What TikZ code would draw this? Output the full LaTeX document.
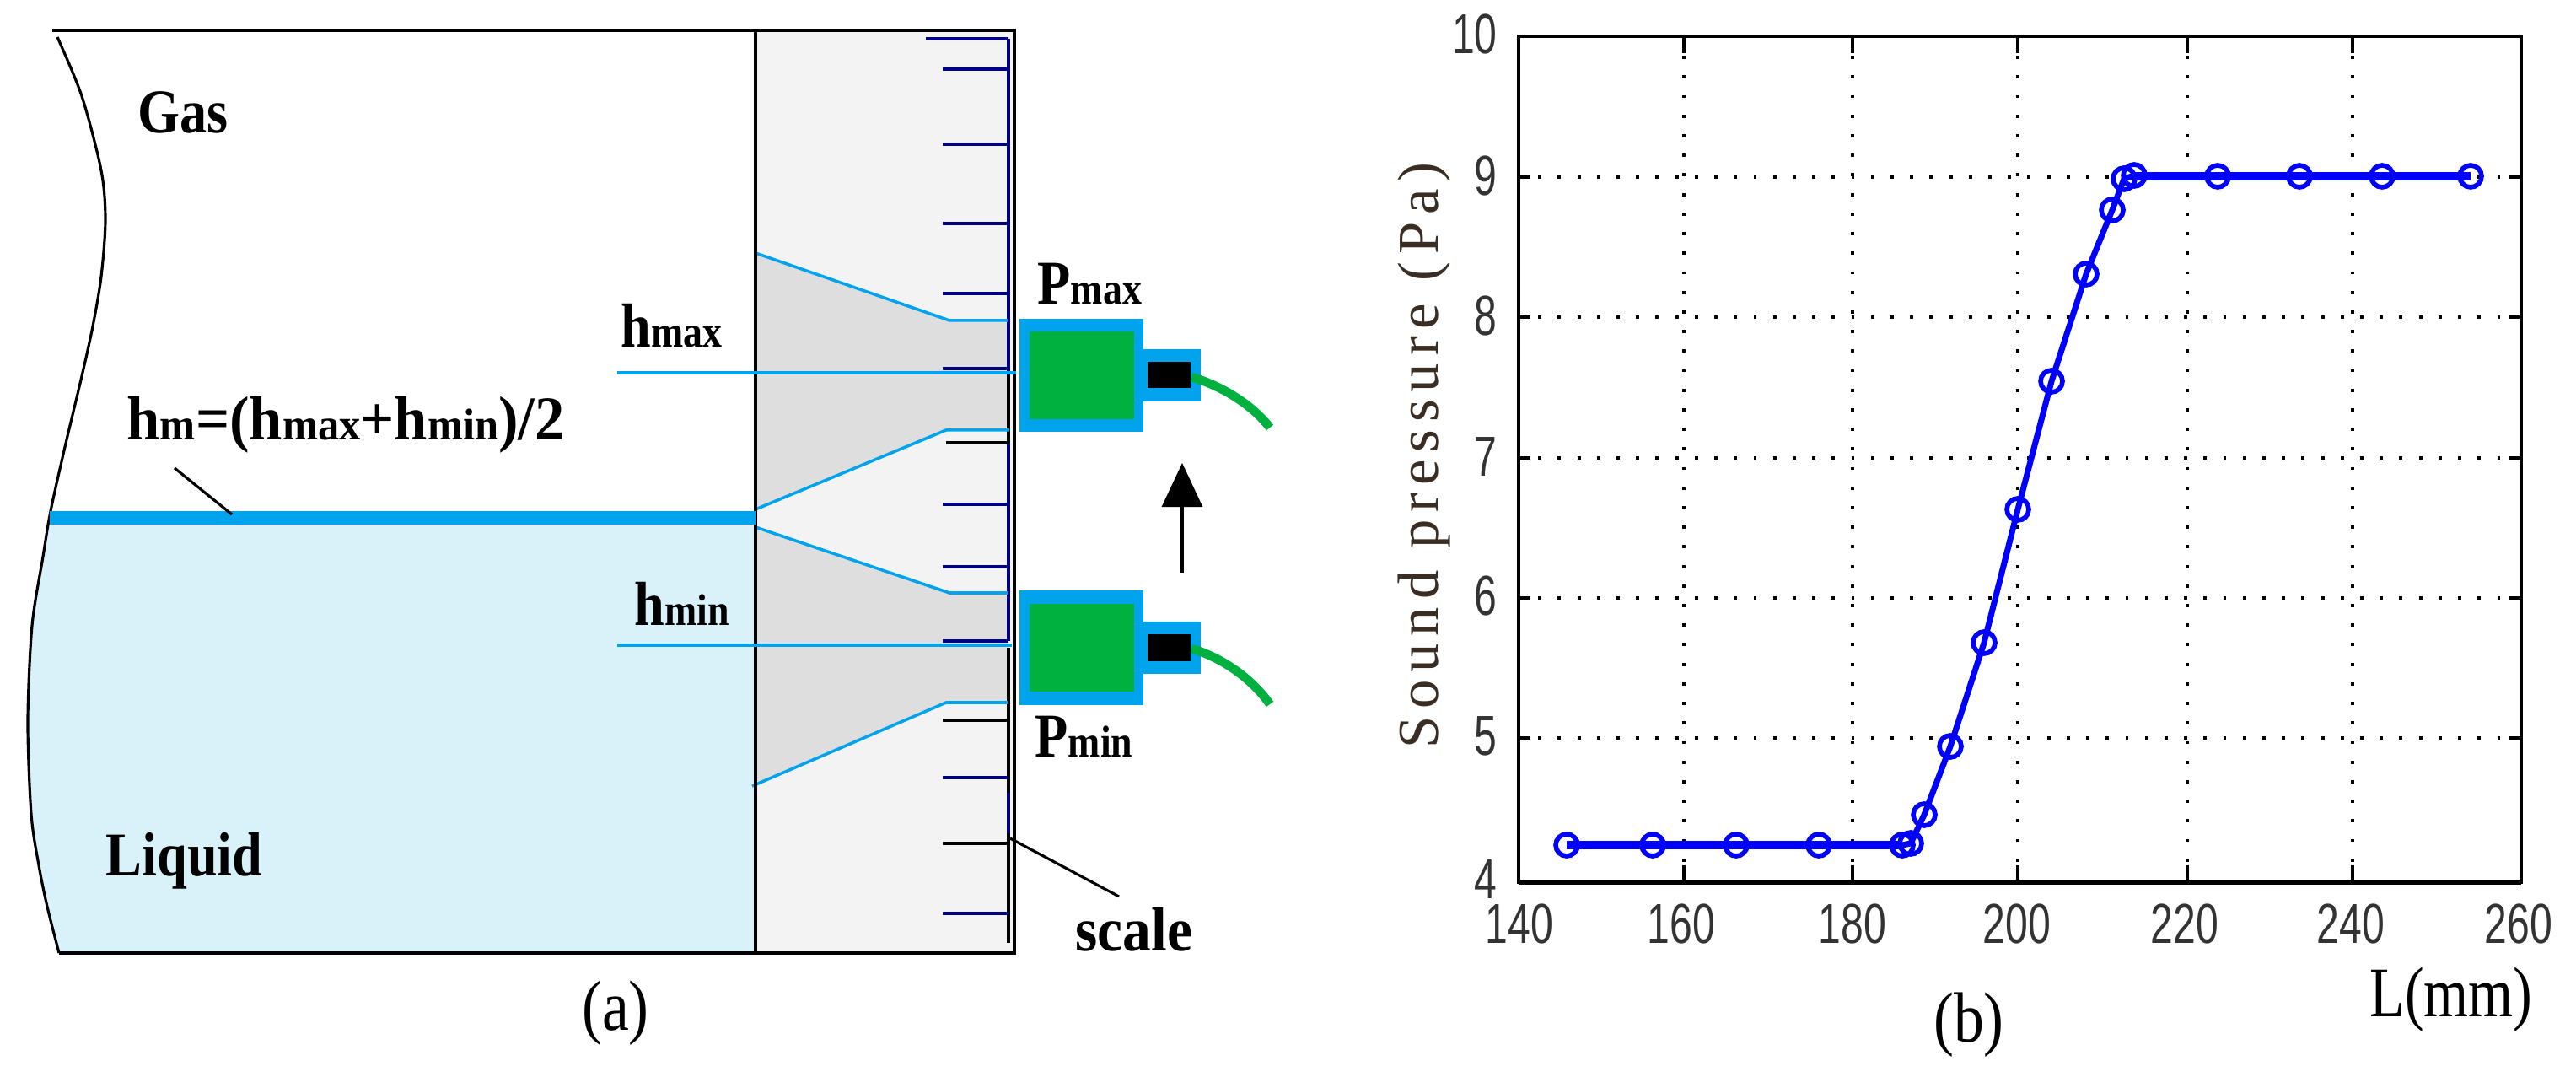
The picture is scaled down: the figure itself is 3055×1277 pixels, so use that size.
\documentclass[tikz,border=0pt]{standalone}
\usepackage{fontspec}
\setmainfont{Liberation Serif}
\setsansfont{Liberation Sans}
\newfontfamily\labelfont[LetterSpace=13]{Liberation Serif}
\usetikzlibrary{arrows.meta}
\definecolor{skyline}{HTML}{00A3EC}
\definecolor{liquidfill}{HTML}{D9F2F9}
\definecolor{panelfill}{HTML}{F3F3F3}
\definecolor{funnelfill}{HTML}{DEDEDE}
\definecolor{sensorgreen}{HTML}{00B140}
\definecolor{scalenavy}{HTML}{000080}
\definecolor{ticktext}{HTML}{333333}
\definecolor{ylabeltext}{HTML}{3A2E24}
\newcommand{\low}[1]{{\fontsize{15}{15}\selectfont #1}}
\tikzset{
    bigtext/.style={font=\fontsize{21}{21}\selectfont\bfseries, inner sep=0pt, anchor=base west, xscale=0.87, transform shape},
    captext/.style={font=\fontsize{24}{24}\selectfont, inner sep=0pt, anchor=base, xscale=0.85, transform shape},
    ticktxt/.style={font=\sffamily\fontsize{19}{19}\selectfont, text=ticktext, inner sep=0pt, xscale=0.72, transform shape},
    scaletick/.style={scalenavy, line width=1.1pt},
    blacktick/.style={black, line width=1.1pt},
    funnel/.style={skyline, line width=1pt},
    griddot/.style={black, line width=1pt, dash pattern=on 1.1pt off 5.5pt},
    axisline/.style={black, line width=1pt},
    curveline/.style={blue, line width=2pt},
    plateau/.style={blue, line width=2.8pt},
    marker/.style={blue, line width=1.6pt}
}
\begin{document}
\begin{tikzpicture}[x=0.01cm,y=-0.01cm]
    \useasboundingbox (0,0) rectangle (3055,1277);
    \fill[panelfill] (896,36) rectangle (1203,1130);
    \fill[liquidfill] plot[smooth] coordinates {(59,614) (51,660) (38,742) (33,855) (37,965) (46,1026) (56,1075) (70,1130)} -- (896,1130) -- (896,614) -- cycle;
    \fill[funnelfill] (896,300) -- (1126,380) -- (1195,380) -- (1195,510) -- (1122,510) -- (896,604) -- cycle;
    \fill[funnelfill] (896,625) -- (1126,703) -- (1195,703) -- (1195,833) -- (1122,833) -- (896,932) -- cycle;
    \draw[scaletick] (1196,46) -- (1196,445);
    \draw[blacktick] (1196,445) -- (1196,525);
    \draw[scaletick] (1196,525) -- (1196,760);
    \draw[blacktick] (1196,768) -- (1196,940);
    \draw[scaletick] (1196,940) -- (1196,988);
    \draw[blacktick] (1196,988) -- (1196,1118);
    \draw[scaletick] (1098,46) -- (1196,46);
    \draw[scaletick] (1118,82) -- (1196,82);
    \draw[scaletick] (1118,171) -- (1196,171);
    \draw[scaletick] (1118,265) -- (1196,265);
    \draw[scaletick] (1118,348) -- (1196,348);
    \draw[scaletick] (1118,437) -- (1196,437);
    \draw[blacktick] (1122,525) -- (1196,525);
    \draw[scaletick] (1118,598) -- (1196,598);
    \draw[scaletick] (1118,672) -- (1196,672);
    \draw[scaletick] (1118,760) -- (1196,760);
    \draw[blacktick] (1118,854) -- (1196,854);
    \draw[scaletick] (1118,922) -- (1196,922);
    \draw[blacktick] (1118,1000) -- (1196,1000);
    \draw[scaletick] (1118,1083) -- (1196,1083);
    \draw[funnel] (896,300) -- (1126,380) -- (1195,380);
    \draw[funnel] (896,604) -- (1122,510) -- (1197,510);
    \draw[funnel] (896,625) -- (1126,703) -- (1195,703);
    \draw[funnel] (892,932) -- (1122,833) -- (1195,833);
    \draw[black, line width=0.9pt] plot[smooth] coordinates {(68,44) (97,114) (120,202) (125,261) (120,328) (110,387) (97,446) (77,530) (60,606) (51,660) (38,742) (33,855) (37,965) (46,1026) (56,1075) (70,1130)};
    \draw[black, line width=1pt] (896,36) -- (896,1130);
    \draw[black, line width=1.4pt] (62,36) -- (1203,36) -- (1203,1130) -- (70,1130);
    \draw[skyline, line width=4.5pt] (59,614) -- (896,614);
    \draw[funnel, line width=1.2pt] (732,442) -- (1205,442);
    \draw[funnel, line width=1.2pt] (732,765) -- (1200,765);
    \fill[skyline] (1209,378) rectangle (1356,512);
    \fill[sensorgreen] (1221,393) rectangle (1345,497);
    \fill[skyline] (1356,414) rectangle (1424,476);
    \fill[black] (1361,429) rectangle (1412,460);
    \draw[sensorgreen, line width=3pt] (1413,447) .. controls (1450,458) and (1485,480) .. (1506,507);
    \fill[skyline] (1209,700) rectangle (1356,836);
    \fill[sensorgreen] (1221,716) rectangle (1345,820);
    \fill[skyline] (1356,737) rectangle (1424,799);
    \fill[black] (1361,752) rectangle (1412,784);
    \draw[sensorgreen, line width=3pt] (1413,769) .. controls (1450,780) and (1485,805) .. (1506,835);
    \coordinate (arrowtail) at (1402,679);
    \coordinate (arrowhead) at (1402,549);
    \draw[-{Triangle[length=0.52cm,width=0.48cm]}, line width=0.9pt] (arrowtail) -- (arrowhead);
    \coordinate (hmtail) at (207,555);
    \coordinate (hmtip) at (275,610);
    \draw[black, line width=0.9pt] (hmtail) -- (hmtip);
    \coordinate (scaletip) at (1198,994);
    \coordinate (scaletail) at (1327,1063);
    \draw[black, line width=0.9pt] (scaletip) -- (scaletail);
    \node[bigtext] (gas) at (163,158) {Gas};
    \node[bigtext] (hmaxlabel) at (736,412) {h\low{max}};
    \node[bigtext, xscale=1.1] (hmlabel) at (150,522) {h\low{m}=(h\low{max}+h\low{min})/2};
    \node[bigtext] (hminlabel) at (752,742) {h\low{min}};
    \node[bigtext] (pmaxlabel) at (1230,361) {P\low{max}};
    \node[bigtext] (pminlabel) at (1227,898) {P\low{min}};
    \node[bigtext, xscale=1.05] (scalelabel) at (1275,1127) {scale};
    \node[bigtext] (liquid) at (125,1038) {Liquid};
    \node[captext] (caption a) at (730,1221) {(a)};
    \draw[griddot] (1997,43) -- (1997,1046);
    \draw[griddot] (2197,43) -- (2197,1046);
    \draw[griddot] (2393,43) -- (2393,1046);
    \draw[griddot] (2594,43) -- (2594,1046);
    \draw[griddot] (2790,43) -- (2790,1046);
    \draw[griddot] (1801,210) -- (2990,210);
    \draw[griddot] (1801,376) -- (2990,376);
    \draw[griddot] (1801,543) -- (2990,543);
    \draw[griddot] (1801,709) -- (2990,709);
    \draw[griddot] (1801,875) -- (2990,875);
    \draw[axisline] (1801,43) rectangle (2990,1046);
    \draw[axisline, line width=1.4pt] (1801,43) -- (2990,43);
    \draw[axisline, line width=1.6pt] (1801,1046) -- (2990,1046);
    \draw[axisline] (1997,43) -- (1997,63);
    \draw[axisline] (2197,43) -- (2197,63);
    \draw[axisline] (2393,43) -- (2393,63);
    \draw[axisline] (2594,43) -- (2594,63);
    \draw[axisline] (2790,43) -- (2790,63);
    \draw[axisline] (1997,1046) -- (1997,1026);
    \draw[axisline] (2197,1046) -- (2197,1026);
    \draw[axisline] (2393,1046) -- (2393,1026);
    \draw[axisline] (2594,1046) -- (2594,1026);
    \draw[axisline] (2790,1046) -- (2790,1026);
    \draw[axisline] (1801,210) -- (1815,210);
    \draw[axisline] (1801,376) -- (1815,376);
    \draw[axisline] (1801,543) -- (1815,543);
    \draw[axisline] (1801,709) -- (1815,709);
    \draw[axisline] (1801,875) -- (1815,875);
    \draw[axisline] (2990,210) -- (2976,210);
    \draw[axisline] (2990,376) -- (2976,376);
    \draw[axisline] (2990,543) -- (2976,543);
    \draw[axisline] (2990,709) -- (2976,709);
    \draw[axisline] (2990,875) -- (2976,875);
    \draw[curveline] (2256,1002) -- (2266,1000) -- (2282,966) -- (2313,885) -- (2353,762) -- (2393,604) -- (2433,452) -- (2474,325) -- (2505,249) -- (2519,212) -- (2531,208);
    \draw[plateau] (1858,1002) -- (2256,1002);
    \draw[plateau] (2531,209) -- (2930,209);
    \draw[marker] (1858,1002) circle [radius=13];
    \draw[marker] (1960,1002) circle [radius=13];
    \draw[marker] (2059,1002) circle [radius=13];
    \draw[marker] (2157,1002) circle [radius=13];
    \draw[marker] (2256,1002) circle [radius=13];
    \draw[marker] (2266,1000) circle [radius=13];
    \draw[marker] (2282,966) circle [radius=13];
    \draw[marker] (2313,885) circle [radius=13];
    \draw[marker] (2353,762) circle [radius=13];
    \draw[marker] (2393,604) circle [radius=13];
    \draw[marker] (2433,452) circle [radius=13];
    \draw[marker] (2474,325) circle [radius=13];
    \draw[marker] (2505,249) circle [radius=13];
    \draw[marker] (2519,212) circle [radius=13];
    \draw[marker] (2531,208) circle [radius=13];
    \draw[marker] (2630,209) circle [radius=13];
    \draw[marker] (2727,209) circle [radius=13];
    \draw[marker] (2825,209) circle [radius=13];
    \draw[marker] (2930,209) circle [radius=13];
    \node[ticktxt, anchor=base east] (y10) at (1776,64) {10};
    \node[ticktxt, anchor=base east] (y9) at (1776,232) {9};
    \node[ticktxt, anchor=base east] (y8) at (1776,398) {8};
    \node[ticktxt, anchor=base east] (y7) at (1776,565) {7};
    \node[ticktxt, anchor=base east] (y6) at (1776,730) {6};
    \node[ticktxt, anchor=base east] (y5) at (1776,896) {5};
    \node[ticktxt, anchor=base east] (y4) at (1776,1066) {4};
    \node[ticktxt, anchor=base] (x140) at (1802,1119) {140};
    \node[ticktxt, anchor=base] (x160) at (1994,1119) {160};
    \node[ticktxt, anchor=base] (x180) at (2197,1119) {180};
    \node[ticktxt, anchor=base] (x200) at (2392,1119) {200};
    \node[ticktxt, anchor=base] (x220) at (2591,1119) {220};
    \node[ticktxt, anchor=base] (x240) at (2788,1119) {240};
    \node[ticktxt, anchor=base] (x260) at (2987,1119) {260};
    \node[font=\labelfont\fontsize{19.5}{19.5}\selectfont, text=ylabeltext, inner sep=0pt, anchor=base, rotate=90] (ylabel) at (1705,540) {Sound pressure (Pa)};
    \node[captext, anchor=base west, xscale=0.95] (xlabel) at (2810,1205) {L(mm)};
    \node[captext] (caption b) at (2335,1235) {(b)};
\end{tikzpicture}
\end{document}
